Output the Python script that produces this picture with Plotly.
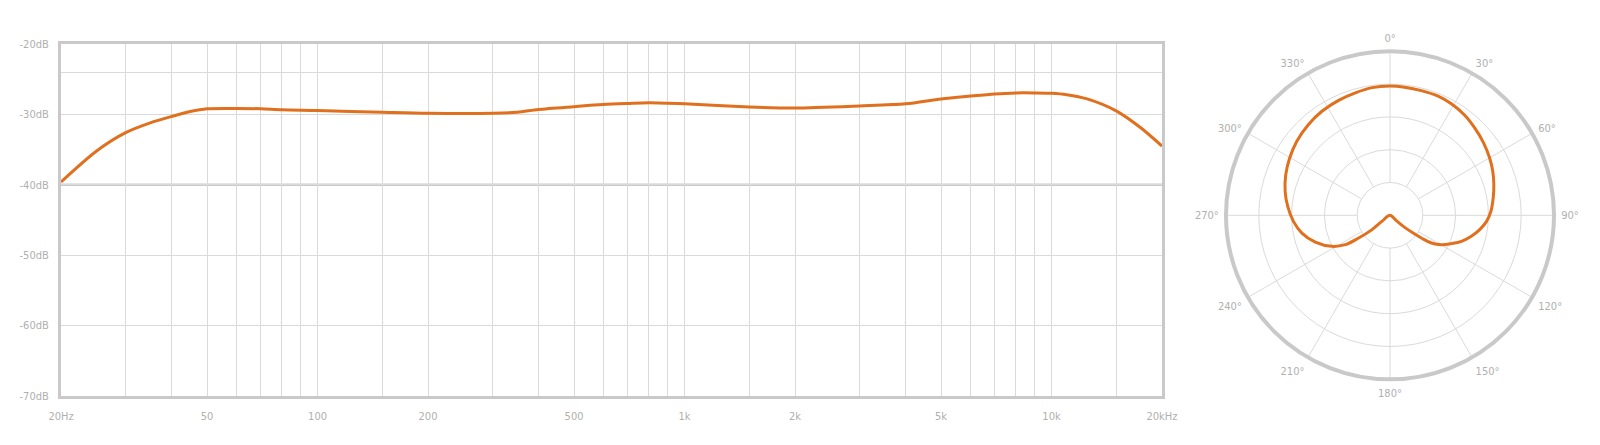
import plotly.graph_objects as go

# ---------------- data ----------------
freq_hz = [20, 25, 30, 35, 40, 45, 50, 60, 70, 80, 100,
           150, 200, 300, 350, 400, 500, 600, 700, 800, 1000,
           1500, 2000, 3000, 4000, 5000, 6000, 7000, 8000, 9000, 10000,
           11000, 12500, 15000, 17500, 20000]
level_db = [-39.6, -35.2, -32.6, -31.2, -30.3, -29.6, -29.2, -29.15, -29.2, -29.35, -29.45,
            -29.7, -29.85, -29.85, -29.7, -29.3, -28.9, -28.6, -28.45, -28.35, -28.5,
            -28.95, -29.1, -28.8, -28.5, -27.8, -27.4, -27.1, -26.95, -26.95, -27.0,
            -27.2, -27.8, -29.5, -31.9, -34.5]

x_label_vals = [20, 50, 100, 200, 500, 1000, 2000, 5000, 10000, 20000]
x_label_text = ['20Hz', '50', '100', '200', '500', '1k', '2k', '5k', '10k', '20kHz']
x_grid_vals = [30, 40, 60, 70, 80, 90, 150, 300, 400, 600, 700, 800, 900,
               1500, 3000, 4000, 6000, 7000, 8000, 9000, 15000]

y_label_vals = [-70, -60, -50, -40, -30, -20]
y_label_text = ['-70dB', '-60dB', '-50dB', '-40dB', '-30dB', '-20dB']
y_grid_vals = [-24]

# polar pattern, traced from the rear null round the front and back to the null
polar_deg = [180, 130, 129.3, 127.5, 125.9, 123.8, 119.7, 114.8, 110, 104.5, 99.1, 93.6,
             87.7, 80.5, 73.6, 66.7, 59.7, 52.1, 44.1, 36.6, 28.8, 22, 14.1, 6.5, 0,
             352, 344.2, 335.9, 326.8, 318.1, 308.5, 299.5, 291.2, 282.9, 275,
             266.4, 258.6, 250.3, 241.9, 236.7, 234.1, 231.5, 233.1, 180]
polar_r = [0, 0.25, 0.58, 0.89, 1.18, 1.52, 1.81, 2.06, 2.32, 2.56, 2.77, 2.95,
           3.08, 3.19, 3.30, 3.41, 3.51, 3.61, 3.71, 3.81, 3.88, 3.92, 3.92, 3.93, 3.94,
           3.93, 3.88, 3.84, 3.79, 3.72, 3.63, 3.52, 3.41, 3.28, 3.13,
           2.95, 2.74, 2.42, 2.01, 1.63, 1.18, 0.70, 0.31, 0]

angle_ticks = [0, 30, 60, 90, 120, 150, 180, 210, 240, 270, 300, 330]
angle_text = ['0°', '30°', '60°', '90°', '120°', '150°', '180°', '210°', '240°', '270°', '300°', '330°']
ring_vals = [1, 2, 3, 4]
ring_max = 5

# ---------------- style ----------------
ORANGE = '#E0701E'
GRID = '#dadada'
BORDER = '#c9c9c9'
TEXT = '#b0b0b0'
FONT = 'Liberation Sans Narrow, DejaVu Sans Condensed, Roboto Condensed, Arial Narrow, sans-serif'

W, H = 1600, 445

fig = go.Figure()

fig.add_trace(go.Scatter(
    x=freq_hz, y=level_db, mode='lines',
    line=dict(color=ORANGE, width=3, shape='spline', smoothing=0.8),
    hoverinfo='skip', showlegend=False, xaxis='x', yaxis='y'))

# spokes of the polar grid (from the inner ring to the outer ring)
for a in angle_ticks:
    fig.add_trace(go.Scatterpolar(
        r=[ring_vals[0], ring_max], theta=[a, a], mode='lines',
        line=dict(color=GRID, width=1), hoverinfo='skip', showlegend=False,
        subplot='polar'))

fig.add_trace(go.Scatterpolar(
    r=polar_r, theta=polar_deg, mode='lines',
    line=dict(color=ORANGE, width=3, shape='spline', smoothing=1.0),
    hoverinfo='skip', showlegend=False, subplot='polar'))

x_tickvals = sorted(set(x_label_vals + x_grid_vals))
x_ticktext = [x_label_text[x_label_vals.index(v)] if v in x_label_vals else '' for v in x_tickvals]
y_tickvals = sorted(set(y_label_vals + y_grid_vals))
y_ticktext = [y_label_text[y_label_vals.index(v)] if v in y_label_vals else '' for v in y_tickvals]

fx0, fx1 = 53 / W, 1154 / W
fy0, fy1 = (H - 388) / H, (H - 36) / H

pcx, pcy, prad = 1382, 207.3, 164
px0, px1 = (pcx - prad) / W, (pcx + prad) / W
py0, py1 = (H - (pcy + prad)) / H, (H - (pcy - prad)) / H

fig.update_layout(
    width=W, height=H, autosize=False,
    margin=dict(l=0, r=0, t=0, b=0, pad=0, autoexpand=False),
    paper_bgcolor='white', plot_bgcolor='white',
    font=dict(family=FONT, size=11, color=TEXT),
    xaxis=dict(
        type='log', range=[1.30103, 4.30103], domain=[fx0, fx1], automargin=False,
        tickmode='array', tickvals=x_tickvals, ticktext=x_ticktext,
        showgrid=True, gridcolor=GRID, gridwidth=1,
        showline=True, linecolor=BORDER, linewidth=3, mirror=True,
        ticks='', zeroline=False, ticklabelstandoff=8,
        tickfont=dict(family=FONT, size=11, color=TEXT), fixedrange=True),
    yaxis=dict(
        range=[-70, -20], domain=[fy0, fy1], automargin=False,
        tickmode='array', tickvals=y_tickvals, ticktext=y_ticktext,
        showgrid=True, gridcolor=GRID, gridwidth=1,
        showline=True, linecolor=BORDER, linewidth=3, mirror=True,
        ticks='', zeroline=False, ticklabelstandoff=7,
        tickfont=dict(family=FONT, size=11, color=TEXT), fixedrange=True),
    shapes=[dict(type='line', xref='x domain', yref='y', x0=0, x1=1, y0=-40, y1=-40,
                 line=dict(color=BORDER, width=2.5), layer='below')],
    polar=dict(
        domain=dict(x=[px0, px1], y=[py0, py1]),
        bgcolor='white',
        radialaxis=dict(range=[0, ring_max], tickvals=ring_vals, showticklabels=False,
                        ticks='', showline=False, showgrid=True, gridcolor=GRID, gridwidth=1),
        angularaxis=dict(rotation=90, direction='clockwise',
                         tickmode='array', tickvals=angle_ticks, ticktext=angle_text,
                         showgrid=False, ticks='outside', ticklen=3,
                         tickcolor='rgba(0,0,0,0)', showline=True,
                         linecolor=BORDER, linewidth=4,
                         tickfont=dict(family=FONT, size=11, color=TEXT)),
    ),
)

fig.write_html('out.html')
